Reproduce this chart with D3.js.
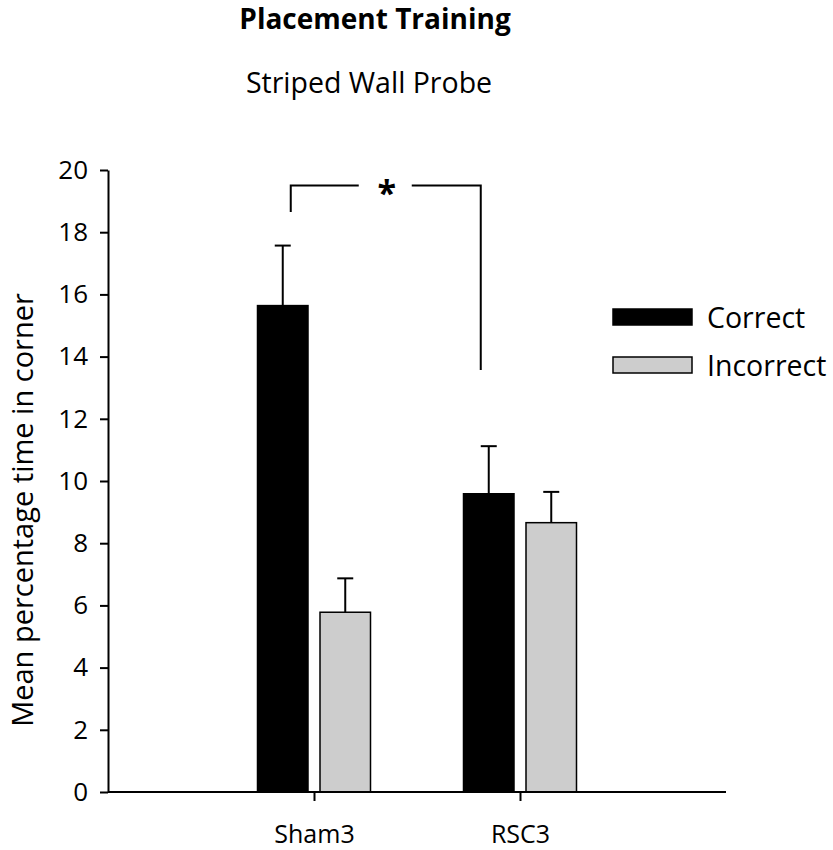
<!DOCTYPE html>
<html>
<head>
<meta charset="utf-8">
<script src="https://cdn.jsdelivr.net/npm/d3@7"></script>
<style>
  body { margin: 0; background: #fff; }
  svg { font-family: "Open Sans", sans-serif; }
</style>
</head>
<body>
<svg width="833" height="850"></svg>
<script>
const groups = ["Sham3", "RSC3"];
const series = ["Correct", "Incorrect"];
const correctMeans = [15.64, 9.59];
const correctErrTops = [17.57, 11.12];
const incorrectMeans = [5.78, 8.66];
const incorrectErrTops = [6.87, 9.65];
const yTicks = [0, 2, 4, 6, 8, 10, 12, 14, 16, 18, 20];
// significance bracket, in data units
const bracketY = 19.5;
const bracketLeftEnd = 18.65;
const bracketRightEnd = 13.57;

const svg = d3.select("svg");
const colors = { Correct: "#000000", Incorrect: "#cdcdcd" };

const plotLeft = 108, plotRight = 726, plotTop = 170, plotBottom = 792;

const y = d3.scaleLinear().domain([0, 20]).range([plotBottom, plotTop]);
const x = d3.scalePoint().domain(groups).range([plotLeft, plotRight]).padding(1);
const inner = d3.scaleBand().domain(series).range([-56.5, 56.5]).paddingInner(0.192);

const rows = [];
groups.forEach((g, i) => {
  rows.push({ group: g, key: "Correct", value: correctMeans[i], err: correctErrTops[i] });
  rows.push({ group: g, key: "Incorrect", value: incorrectMeans[i], err: incorrectErrTops[i] });
});
const barX = d => x(d.group) + inner(d.key);
const barMid = d => barX(d) + inner.bandwidth() / 2;

// error bars (drawn first, bars cover the stem base)
const err = svg.append("g").attr("stroke", "#000").attr("stroke-width", 2);
err.selectAll(".stem").data(rows).join("line")
  .attr("x1", barMid).attr("x2", barMid)
  .attr("y1", d => y(d.value)).attr("y2", d => y(d.err));
err.selectAll(".cap").data(rows).join("line")
  .attr("x1", d => barMid(d) - 8).attr("x2", d => barMid(d) + 8)
  .attr("y1", d => y(d.err)).attr("y2", d => y(d.err));

svg.append("g").selectAll("rect").data(rows).join("rect")
  .attr("x", barX)
  .attr("y", d => y(d.value))
  .attr("width", inner.bandwidth())
  .attr("height", d => y(0) - y(d.value))
  .attr("fill", d => colors[d.key])
  .attr("stroke", "#000")
  .attr("stroke-width", 1.5);

// axes
const yAxis = svg.append("g")
  .attr("transform", `translate(${plotLeft},0)`)
  .call(d3.axisLeft(y).tickValues(yTicks).tickSize(8).tickSizeOuter(0).tickPadding(12));
yAxis.selectAll("text").attr("font-size", 26).attr("fill", "#000").attr("font-family", "Open Sans");
yAxis.selectAll("line, path").attr("stroke", "#000").attr("stroke-width", 2);

const xAxis = svg.append("g")
  .attr("transform", `translate(0,${plotBottom})`)
  .call(d3.axisBottom(x).tickSize(9).tickSizeOuter(0).tickPadding(24));
xAxis.select(".domain").attr("d", `M${plotLeft},0H${plotRight}`);
xAxis.selectAll("text").attr("font-size", 25).attr("fill", "#000").attr("font-family", "Open Sans");
xAxis.selectAll("line, path").attr("stroke", "#000").attr("stroke-width", 2);

// y label
svg.append("text")
  .attr("transform", "translate(33,510) rotate(-90)")
  .attr("text-anchor", "middle")
  .attr("font-size", 29)
  .text("Mean percentage time in corner");

// titles
svg.append("text").attr("x", 375).attr("y", 29)
  .attr("text-anchor", "middle").attr("font-size", 28).attr("font-weight", "bold")
  .text("Placement Training");
svg.append("text").attr("x", 369).attr("y", 93)
  .attr("text-anchor", "middle").attr("font-size", 28.5)
  .text("Striped Wall Probe");

// significance bracket
const bx1 = barMid(rows[0]) + 8;
const bx2 = barMid(rows[2]) - 8;
const starX = (bx1 + bx2) / 2 + 1;
const br = svg.append("g").attr("stroke", "#000").attr("stroke-width", 2).attr("fill", "none");
br.append("path").attr("d", `M${bx1},${y(bracketLeftEnd)}V${y(bracketY)}H${starX - 28}`);
br.append("path").attr("d", `M${starX + 25},${y(bracketY)}H${bx2}V${y(bracketRightEnd)}`);
svg.append("text").attr("x", starX).attr("y", y(bracketY) + 19)
  .attr("text-anchor", "middle").attr("font-size", 34).attr("font-weight", "bold")
  .text("*");

// legend
const legend = svg.append("g").selectAll("g").data(series).join("g")
  .attr("transform", (d, i) => `translate(613,${309 + i * 48})`);
legend.append("rect")
  .attr("width", 79).attr("height", 16)
  .attr("fill", d => colors[d]).attr("stroke", "#000").attr("stroke-width", 1.5);
legend.append("text")
  .attr("x", 94).attr("y", 19).attr("font-size", 28.5)
  .text(d => d);
</script>
</body>
</html>
